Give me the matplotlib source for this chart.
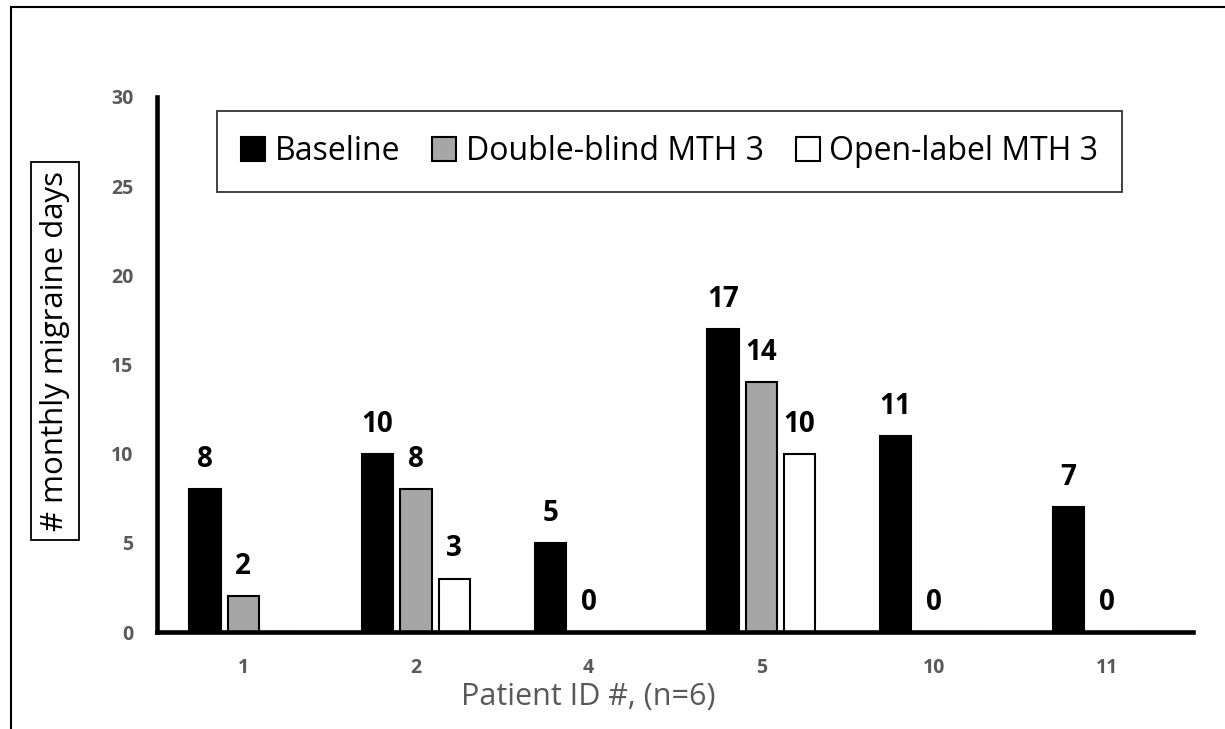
import numpy as np
import matplotlib.pyplot as plt
from matplotlib.lines import Line2D

plt.rcParams['font.family'] = ['Open Sans', 'DejaVu Sans']

# Data
patients = ['1', '2', '4', '5', '10', '11']
baseline = [8, 10, 5, 17, 11, 7]
double_blind = [2, 8, 0, 14, 0, 0]
open_label = [np.nan, 3, np.nan, 10, np.nan, np.nan]
series_names = ['Baseline', 'Double-blind MTH 3', 'Open-label MTH 3']
y_ticks = [0, 5, 10, 15, 20, 25, 30]

fig = plt.figure(figsize=(12.25, 7.29), dpi=100)
ax = fig.add_axes([157 / 1225, 1 - 632 / 729, 1036 / 1225, 535 / 729])

x = np.arange(len(patients))
width = 0.18
offset = 0.222
tick_grey = '#595959'

series = [baseline, double_blind, open_label]
styles = [dict(color='black', edgecolor='black'),
          dict(color='#a6a6a6', edgecolor='black'),
          dict(color='white', edgecolor='black')]

for i, (vals, st, name) in enumerate(zip(series, styles, series_names)):
    pos = x + (i - 1) * offset
    v = np.array(vals, dtype=float)
    ax.bar(pos, np.nan_to_num(v), width=width, linewidth=1.5, label=name, **st)
    for px, val in zip(pos, v):
        if np.isnan(val):
            continue
        ax.text(px, val + 0.85, f'{int(val)}', ha='center', va='bottom',
                fontsize=20, fontweight='bold', color='black')

ax.set_xlim(-0.5, len(patients) - 0.5)
ax.set_ylim(0, 30)
ax.set_yticks(y_ticks)
ax.set_xticks(x)
ax.set_xticklabels(patients)
ax.tick_params(length=0, labelsize=14, labelcolor=tick_grey)
ax.tick_params(axis='y', pad=17)
ax.tick_params(axis='x', pad=19)
for lab in ax.get_xticklabels() + ax.get_yticklabels():
    lab.set_fontweight('bold')

for side in ['top', 'right']:
    ax.spines[side].set_visible(False)
ax.spines['left'].set_linewidth(3.3)
ax.spines['bottom'].set_linewidth(3.3)

leg = ax.legend(loc='center', bbox_to_anchor=(0.495, 0.898), ncol=3,
                fontsize=23, frameon=True, fancybox=False, edgecolor='black',
                handlelength=0.75, handleheight=0.75, handletextpad=0.3,
                columnspacing=1.0, borderpad=0.75)
leg.get_frame().set_linewidth(1.3)

# y-axis title in a box
fig.text(55 / 1225, 1 - 351 / 729, '# monthly migraine days', rotation=90,
         ha='center', va='center', fontsize=22.5, color='black',
         bbox=dict(boxstyle='square,pad=0.3', facecolor='white',
                   edgecolor='black', linewidth=1.3))

fig.text(588 / 1225, 1 - 697 / 729, 'Patient ID #, (n=6)', ha='center',
         va='center', fontsize=22, color=tick_grey)

# outer frame (top and left edges)
fig.add_artist(Line2D([11 / 1225, 1], [1 - 7 / 729, 1 - 7 / 729],
                      transform=fig.transFigure, color='black', linewidth=1.5))
fig.add_artist(Line2D([11 / 1225, 11 / 1225], [0, 1 - 7 / 729],
                      transform=fig.transFigure, color='black', linewidth=1.5))

fig.savefig('out.png', dpi=100)
